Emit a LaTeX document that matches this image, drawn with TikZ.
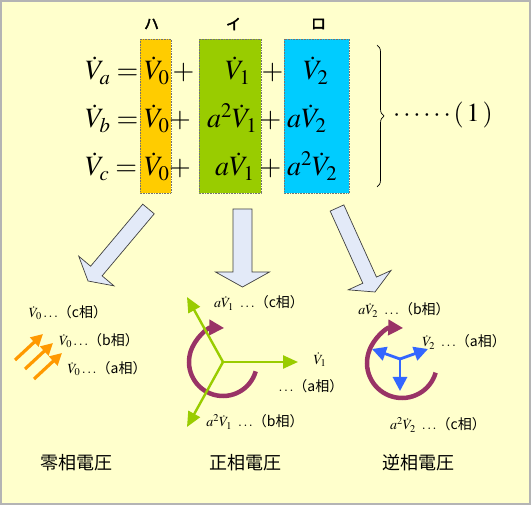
\documentclass[tikz,border=0pt]{standalone}
\usepackage{mathptmx}
\usepackage[no-math]{fontspec}
\newfontfamily\jp{Noto Sans CJK JP}
\newfontfamily\jpb{Noto Sans CJK JP}[FakeBold=2.5]
\usepackage{xcolor}
\usepackage{tikz}
\usetikzlibrary{calc,arrows.meta,decorations.pathreplacing}

\definecolor{bgyellow}{HTML}{FFFFCC}
\definecolor{framegray}{HTML}{B4B4B4}
\definecolor{boxorange}{HTML}{FFCC00}
\definecolor{boxgreen}{HTML}{99CC00}
\definecolor{boxblue}{HTML}{00CCFF}
\definecolor{arrfill}{HTML}{E3EAF8}
\definecolor{zeroorange}{HTML}{FF9900}
\definecolor{rotpurple}{HTML}{993366}
\definecolor{negblue}{HTML}{3366FF}

% block arrow: start, tip, half shaft, half head, head length
\newcommand{\blockarrow}[5]{%
  \coordinate (#1-h) at ($(#2)!#5!(#1)$);
  \filldraw[bigarrow] ($(#1)!#3!90:(#2)$) -- ($(#1-h)!#3!90:(#2)$) -- ($(#1-h)!#4!90:(#2)$)
    -- (#2) -- ($(#1-h)!#4!-90:(#2)$) -- ($(#1-h)!#3!-90:(#2)$) -- ($(#1)!#3!-90:(#2)$) -- cycle;}

\begin{document}
\begin{tikzpicture}[x=1pt,y=-1pt,
  eqbox/.style={draw=black!55,densely dotted,line width=0.6pt},
  eqn/.style={inner sep=0pt,anchor=base west,font=\fontsize{28}{32}\selectfont},
  op/.style={inner sep=0pt,anchor=base,font=\fontsize{28}{32}\selectfont},
  tag/.style={inner sep=0pt,font=\jpb\fontsize{15}{17}\selectfont},
  lbl/.style={inner sep=0pt,font=\fontsize{14}{16}\selectfont},
  title/.style={inner sep=0pt,font=\jp\fontsize{18}{20}\selectfont},
  bigarrow/.style={fill=arrfill,draw=black!75,line width=0.7pt,line join=miter},
  zeroarr/.style={zeroorange,line width=3.2pt,-{Triangle[length=12pt,width=12pt]}},
  posarr/.style={boxgreen,line width=2.4pt,-{Triangle[length=15pt,width=13pt]}},
  negarr/.style={negblue,line width=2.8pt,-{Triangle[length=14pt,width=14pt]}},
  rotarr/.style={rotpurple,line width=4.5pt,-{Triangle[length=15pt,width=15pt]}}]
\useasboundingbox (0,0) rectangle (531,505);
\draw[fill=bgyellow,draw=framegray,line width=2pt] (1,1) rectangle (530,504);

% component boxes
\draw[eqbox,fill=boxorange] (140,39) rectangle (171,193);
\draw[eqbox,fill=boxgreen] (199,39) rectangle (261,193);
\draw[eqbox,fill=boxblue] (284,39) rectangle (349,193);
\node[tag] (ha) at (151.5,24) {ハ};
\node[tag] (i) at (233.5,24) {イ};
\node[tag] (ro) at (318.5,24) {ロ};

% equations
\node[eqn] (Va) at (85,80) {$\dot V_a=$};
\node[eqn] (Va0) at (144,80) {$\dot V_0$};
\node[op] (pa1) at (183.5,80) {$+$};
\node[eqn] (Va1) at (225,80) {$\dot V_1$};
\node[op] (pa2) at (272.5,80) {$+$};
\node[eqn] (Va2) at (303,80) {$\dot V_2$};

\node[eqn] (Vb) at (85,128) {$\dot V_b=$};
\node[eqn] (Vb0) at (144,128) {$\dot V_0$};
\node[op] (pb1) at (180,128) {$+$};
\node[eqn] (Vb1) at (207,128) {$a^2\dot V_1$};
\node[op] (pb2) at (270.5,128) {$+$};
\node[eqn] (Vb2) at (287,128) {$a\dot V_2$};

\node[eqn] (Vc) at (85,176) {$\dot V_c=$};
\node[eqn] (Vc0) at (144,176) {$\dot V_0$};
\node[op] (pc1) at (180,176) {$+$};
\node[eqn] (Vc1) at (215,176) {$a\dot V_1$};
\node[op] (pc2) at (270.5,176) {$+$};
\node[eqn] (Vc2) at (287,176) {$a^2\dot V_2$};

\draw[decorate,decoration={brace,amplitude=7pt},line width=0.7pt] (377,45) -- (377,187);
\node[eqn,font=\fontsize{26}{30}\selectfont] (eqno) at (393,122) {$\cdots\cdots(\,1\,)$};

% block arrows
\coordinate (arr0s) at (148.5,209);
\coordinate (arr0t) at (88,281);
\coordinate (arr1s) at (242.5,209);
\coordinate (arr1t) at (242.5,287);
\coordinate (arr2s) at (337,208);
\coordinate (arr2t) at (375,292);
\blockarrow{arr0s}{arr0t}{7.5pt}{23pt}{13pt}
\blockarrow{arr1s}{arr1t}{9.5pt}{27pt}{15pt}
\blockarrow{arr2s}{arr2t}{7.5pt}{23.5pt}{13pt}

% zero sequence
\coordinate (z1s) at (15,360);
\coordinate (z1t) at (43,334);
\coordinate (z2s) at (25,369);
\coordinate (z2t) at (53,343);
\coordinate (z3s) at (34,379);
\coordinate (z3t) at (62,353);
\draw[zeroarr] (z1s) -- (z1t);
\draw[zeroarr] (z2s) -- (z2t);
\draw[zeroarr] (z3s) -- (z3t);
\node[lbl] (L0c) at (68,313) {$\dot V_0\ldots$\jp （c相）};
\node[lbl] (L0b) at (99,341) {$\dot V_0\ldots$\jp （b相）};
\node[lbl] (L0a) at (107,369) {$\dot V_0\ldots$\jp （a相）};
\node[title] (T0) at (77,463) {零相電圧};

% positive sequence
\coordinate (P) at (223,362);
\coordinate (Pa) at (298,362);
\coordinate (Pc) at (187,297);
\coordinate (Pb) at (187,427);
\draw[rotarr] (P) ++(16:34) arc[start angle=16,end angle=272,radius=34];
\draw[posarr] (P) -- (Pa);
\draw[posarr] (P) -- (Pc);
\draw[posarr] (P) -- (Pb);
\node[lbl] (L1c) at (259,303) {$a\dot V_1\ \ldots$\jp （c相）};
\node[lbl] (L1a) at (320,360) {$\dot V_1$};
\node[lbl] (L1ap) at (311,386) {$\ldots$\jp （a相）};
\node[lbl] (L1b) at (255,422) {$a^2\dot V_1\ \ldots$\jp （b相）};
\node[title] (T1) at (245.5,463) {正相電圧};

% negative sequence
\coordinate (N) at (400,359);
\coordinate (Na) at (428,349);
\coordinate (Nb) at (372,349);
\coordinate (Nc) at (400,391);
\draw[rotarr] (402,363) ++(16:35) arc[start angle=16,end angle=272,radius=35];
\draw[negarr] (N) -- (Na);
\draw[negarr] (N) -- (Nb);
\draw[negarr] (N) -- (Nc);
\node[lbl] (L2b) at (404,310) {$a\dot V_2\ \ldots$\jp （b相）};
\node[lbl] (L2a) at (464,342) {$\dot V_2\ \ldots$\jp （a相）};
\node[lbl] (L2c) at (438,425) {$a^2\dot V_2\ \ldots$\jp （c相）};
\node[title] (T2) at (418.5,463) {逆相電圧};
\end{tikzpicture}
\end{document}
